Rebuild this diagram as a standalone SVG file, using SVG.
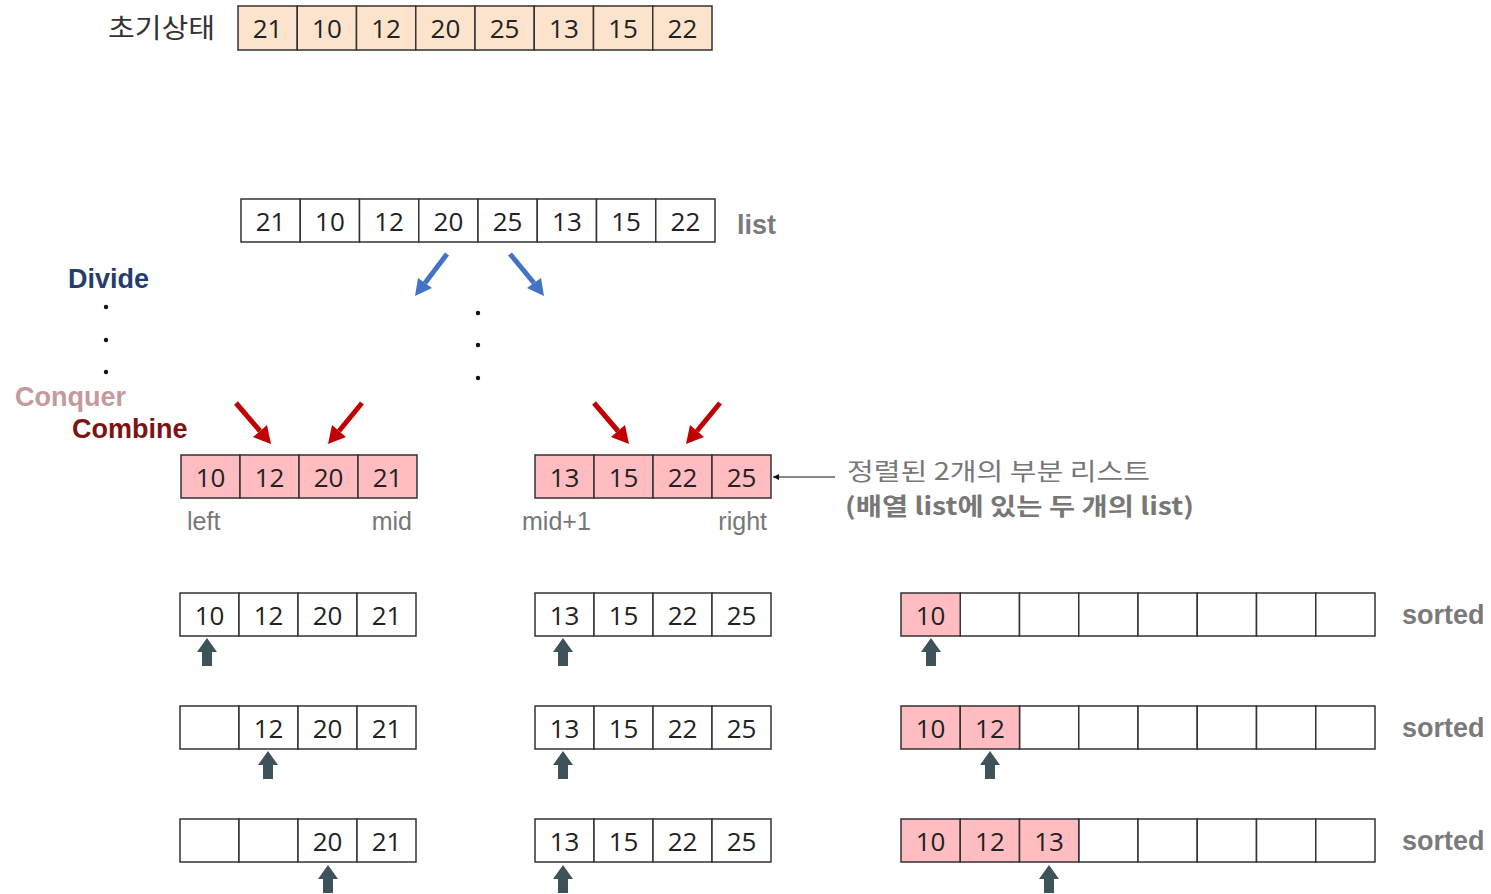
<svg xmlns="http://www.w3.org/2000/svg" width="1491" height="894" viewBox="0 0 1491 894">
<defs>
<style>
.c{stroke:#333;stroke-width:1.5}
.w{fill:#fff}
.p{fill:#ffbcc1}
.o{fill:#fce3cc}
.n{font-family:"Open Sans","Noto Sans",sans-serif;font-size:26px;fill:#222;text-anchor:middle}
.g{font-family:"Liberation Sans",Arial,sans-serif;font-size:25px;fill:#777}
.b{font-family:"Liberation Sans",Arial,sans-serif;font-weight:bold;font-size:27px;fill:#7a7a7a}
.h{font-family:"Liberation Sans",Arial,sans-serif;font-weight:bold;font-size:27px}
.k{font-family:"Noto Sans CJK KR",sans-serif}
.ua{fill:#3e5259}
.dot{fill:#111}
</style>
<marker id="sa" viewBox="0 0 10 10" refX="10" refY="5" markerWidth="6" markerHeight="6" orient="auto"><path d="M10,5 L0,0 L0,10 Z" fill="#111"/></marker>
<g id="up"><path d="M0,0 L10,14 L5,14 L5,28 L-5,28 L-5,14 L-10,14 Z"/></g>
</defs>
<rect width="1491" height="894" fill="#fff"/>

<g id="init">
<text x="108" y="38" class="k" font-size="27" fill="#333" textLength="107" lengthAdjust="spacingAndGlyphs">초기상태</text>
<g class="c o">
<rect x="238" y="6" width="59.25" height="44"/><rect x="297.25" y="6" width="59.25" height="44"/><rect x="356.5" y="6" width="59.25" height="44"/><rect x="415.75" y="6" width="59.25" height="44"/><rect x="475" y="6" width="59.25" height="44"/><rect x="534.25" y="6" width="59.25" height="44"/><rect x="593.5" y="6" width="59.25" height="44"/><rect x="652.75" y="6" width="59.25" height="44"/>
</g>
<g class="n"><text x="267.6" y="38">21</text><text x="326.9" y="38">10</text><text x="386.1" y="38">12</text><text x="445.4" y="38">20</text><text x="504.6" y="38">25</text><text x="563.9" y="38">13</text><text x="623.1" y="38">15</text><text x="682.4" y="38">22</text></g>
</g>

<g id="list">
<g class="c w">
<rect x="241" y="199" width="59.25" height="43"/><rect x="300.25" y="199" width="59.25" height="43"/><rect x="359.5" y="199" width="59.25" height="43"/><rect x="418.75" y="199" width="59.25" height="43"/><rect x="478" y="199" width="59.25" height="43"/><rect x="537.25" y="199" width="59.25" height="43"/><rect x="596.5" y="199" width="59.25" height="43"/><rect x="655.75" y="199" width="59.25" height="43"/>
</g>
<g class="n"><text x="270.6" y="231">21</text><text x="329.9" y="231">10</text><text x="389.1" y="231">12</text><text x="448.4" y="231">20</text><text x="507.6" y="231">25</text><text x="566.9" y="231">13</text><text x="626.1" y="231">15</text><text x="685.4" y="231">22</text></g>
<text x="737" y="234" class="b">list</text>
</g>

<g id="labels">
<text x="68" y="288" class="h" fill="#243d6e">Divide</text>
<text x="15" y="406" class="h" fill="#c49a9c">Conquer</text>
<text x="72" y="438" class="h" fill="#7c1414">Combine</text>
<circle class="dot" cx="106" cy="307" r="2.2"/><circle class="dot" cx="106" cy="340" r="2.2"/><circle class="dot" cx="106" cy="372" r="2.2"/>
<circle class="dot" cx="478" cy="313" r="2.2"/><circle class="dot" cx="478" cy="345" r="2.2"/><circle class="dot" cx="478" cy="378" r="2.2"/>
</g>

<g id="connectors">
<g stroke="#4472c4" stroke-width="5" fill="none">
<line x1="447" y1="254" x2="425" y2="283"/>
<line x1="510" y1="254" x2="534" y2="283"/>
</g>
<g fill="#4472c4">
<path d="M415,296 L418,278 L432,288 Z"/>
<path d="M544,296 L527,288 L541,278 Z"/>
</g>
<g stroke="#c00000" stroke-width="5" fill="none">
<line x1="236" y1="403" x2="260" y2="431"/>
<line x1="362" y1="403" x2="339" y2="431"/>
<line x1="594" y1="403" x2="618" y2="431"/>
<line x1="720" y1="403" x2="697" y2="431"/>
</g>
<g fill="#c00000">
<path d="M271,444 L253,437 L267,425 Z"/>
<path d="M328,444 L332,425 L346,437 Z"/>
<path d="M629,444 L611,437 L625,425 Z"/>
<path d="M686,444 L690,425 L704,437 Z"/>
</g>
<line x1="835" y1="477" x2="773" y2="477" stroke="#111" stroke-width="1" marker-end="url(#sa)"/>
</g>

<g id="leftpink">
<g class="c p"><rect x="181" y="455" width="59" height="43"/><rect x="240" y="455" width="59" height="43"/><rect x="299" y="455" width="59" height="43"/><rect x="358" y="455" width="59" height="43"/></g>
<g class="n"><text x="210.5" y="487">10</text><text x="269.5" y="487">12</text><text x="328.5" y="487">20</text><text x="387.5" y="487">21</text></g>
<text x="187" y="530" class="g">left</text>
<text x="412" y="530" class="g" text-anchor="end">mid</text>
</g>

<g id="rightpink">
<g class="c p"><rect x="535" y="455" width="59" height="43"/><rect x="594" y="455" width="59" height="43"/><rect x="653" y="455" width="59" height="43"/><rect x="712" y="455" width="59" height="43"/></g>
<g class="n"><text x="564.5" y="487">13</text><text x="623.5" y="487">15</text><text x="682.5" y="487">22</text><text x="741.5" y="487">25</text></g>
<text x="522" y="530" class="g">mid+1</text>
<text x="767" y="530" class="g" text-anchor="end">right</text>
</g>

<g id="note">
<text x="847" y="480" class="k" font-size="24" fill="#777" textLength="303" lengthAdjust="spacingAndGlyphs">정렬된 2개의 부분 리스트</text>
<text x="845" y="515" class="k" font-size="24" font-weight="bold" fill="#777" textLength="349" lengthAdjust="spacingAndGlyphs">(배열 list에 있는 두 개의 list)</text>
</g>

<g id="row1">
<g class="c w"><rect x="180" y="593" width="59" height="43"/><rect x="239" y="593" width="59" height="43"/><rect x="298" y="593" width="59" height="43"/><rect x="357" y="593" width="59" height="43"/>
<rect x="535" y="593" width="59" height="43"/><rect x="594" y="593" width="59" height="43"/><rect x="653" y="593" width="59" height="43"/><rect x="712" y="593" width="59" height="43"/>
<rect x="960.25" y="593" width="59.25" height="43"/><rect x="1019.5" y="593" width="59.25" height="43"/><rect x="1078.75" y="593" width="59.25" height="43"/><rect x="1138" y="593" width="59.25" height="43"/><rect x="1197.25" y="593" width="59.25" height="43"/><rect x="1256.5" y="593" width="59.25" height="43"/><rect x="1315.75" y="593" width="59.25" height="43"/></g>
<rect class="c p" x="901" y="593" width="59.25" height="43"/>
<g class="n"><text x="209.5" y="625">10</text><text x="268.5" y="625">12</text><text x="327.5" y="625">20</text><text x="386.5" y="625">21</text>
<text x="564.5" y="625">13</text><text x="623.5" y="625">15</text><text x="682.5" y="625">22</text><text x="741.5" y="625">25</text>
<text x="930.6" y="625">10</text></g>
<text x="1402" y="624" class="b">sorted</text>
<g class="ua"><use href="#up" x="207" y="638"/><use href="#up" x="563" y="638"/><use href="#up" x="931" y="638"/></g>
</g>

<g id="row2">
<g class="c w"><rect x="180" y="706" width="59" height="43"/><rect x="239" y="706" width="59" height="43"/><rect x="298" y="706" width="59" height="43"/><rect x="357" y="706" width="59" height="43"/>
<rect x="535" y="706" width="59" height="43"/><rect x="594" y="706" width="59" height="43"/><rect x="653" y="706" width="59" height="43"/><rect x="712" y="706" width="59" height="43"/>
<rect x="1019.5" y="706" width="59.25" height="43"/><rect x="1078.75" y="706" width="59.25" height="43"/><rect x="1138" y="706" width="59.25" height="43"/><rect x="1197.25" y="706" width="59.25" height="43"/><rect x="1256.5" y="706" width="59.25" height="43"/><rect x="1315.75" y="706" width="59.25" height="43"/></g>
<g class="c p"><rect x="901" y="706" width="59.25" height="43"/><rect x="960.25" y="706" width="59.25" height="43"/></g>
<g class="n"><text x="268.5" y="738">12</text><text x="327.5" y="738">20</text><text x="386.5" y="738">21</text>
<text x="564.5" y="738">13</text><text x="623.5" y="738">15</text><text x="682.5" y="738">22</text><text x="741.5" y="738">25</text>
<text x="930.6" y="738">10</text><text x="989.9" y="738">12</text></g>
<text x="1402" y="737" class="b">sorted</text>
<g class="ua"><use href="#up" x="268" y="751"/><use href="#up" x="563" y="751"/><use href="#up" x="990" y="751"/></g>
</g>

<g id="row3">
<g class="c w"><rect x="180" y="819" width="59" height="43"/><rect x="239" y="819" width="59" height="43"/><rect x="298" y="819" width="59" height="43"/><rect x="357" y="819" width="59" height="43"/>
<rect x="535" y="819" width="59" height="43"/><rect x="594" y="819" width="59" height="43"/><rect x="653" y="819" width="59" height="43"/><rect x="712" y="819" width="59" height="43"/>
<rect x="1078.75" y="819" width="59.25" height="43"/><rect x="1138" y="819" width="59.25" height="43"/><rect x="1197.25" y="819" width="59.25" height="43"/><rect x="1256.5" y="819" width="59.25" height="43"/><rect x="1315.75" y="819" width="59.25" height="43"/></g>
<g class="c p"><rect x="901" y="819" width="59.25" height="43"/><rect x="960.25" y="819" width="59.25" height="43"/><rect x="1019.5" y="819" width="59.25" height="43"/></g>
<g class="n"><text x="327.5" y="851">20</text><text x="386.5" y="851">21</text>
<text x="564.5" y="851">13</text><text x="623.5" y="851">15</text><text x="682.5" y="851">22</text><text x="741.5" y="851">25</text>
<text x="930.6" y="851">10</text><text x="989.9" y="851">12</text><text x="1049.1" y="851">13</text></g>
<text x="1402" y="850" class="b">sorted</text>
<g class="ua"><use href="#up" x="328" y="865"/><use href="#up" x="563" y="865"/><use href="#up" x="1049" y="865"/></g>
</g>
</svg>
